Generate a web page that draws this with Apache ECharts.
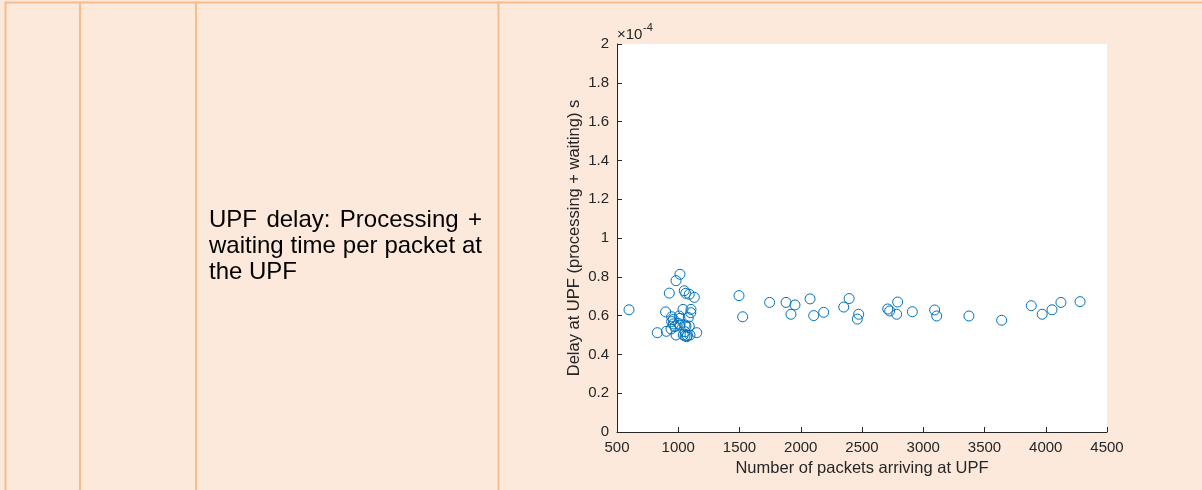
<!DOCTYPE html>
<html>
<head>
<meta charset="utf-8">
<script src="https://cdn.jsdelivr.net/npm/echarts@6/dist/echarts.min.js"></script>
<style>
html,body{margin:0;padding:0;background:#FCE9DB;}
#chart{width:1202px;height:490px;}
</style>
</head>
<body>
<div id="chart"></div>
<script>
// ---- data (y values in units of 1e-4 s) ----
const yExponent = -4;
const packetsArriving = [
  598, 829, 903, 897, 927, 982, 1014, 1049, 1061, 1090, 1131, 1039, 1104, 1102,
  946, 960, 1008, 1014, 1082, 946, 960, 1000, 1014, 1055, 1090, 941, 973, 1151,
  982, 1041, 1055, 1074, 1069, 1096, 1055, 1063,
  1496, 1526, 1746, 1880, 1953, 1920, 2076, 2106, 2187, 2351, 2395,
  2473, 2462, 2710, 2726, 2791, 2783, 2911, 3093, 3110, 3373, 3640,
  3882, 3971, 4051, 4124, 4280
];
const upfDelay = [
  0.630, 0.512, 0.519, 0.619, 0.716, 0.780, 0.813, 0.728, 0.715, 0.710, 0.694, 0.632, 0.632, 0.615,
  0.594, 0.580, 0.598, 0.586, 0.590, 0.569, 0.557, 0.560, 0.552, 0.552, 0.546, 0.531, 0.543, 0.512,
  0.500, 0.500, 0.495, 0.497, 0.491, 0.500, 0.517, 0.546,
  0.703, 0.594, 0.668, 0.668, 0.655, 0.607, 0.686, 0.600, 0.617, 0.644, 0.688,
  0.607, 0.582, 0.634, 0.624, 0.670, 0.607, 0.620, 0.629, 0.598, 0.598, 0.576,
  0.651, 0.607, 0.630, 0.668, 0.672
];
const xTicks = [500, 1000, 1500, 2000, 2500, 3000, 3500, 4000, 4500];
const yTicks = [0, 0.2, 0.4, 0.6, 0.8, 1, 1.2, 1.4, 1.6, 1.8, 2];
const xTitle = 'Number of packets arriving at UPF';
const yTitle = 'Delay at UPF (processing + waiting) s';
const cellLines = [
  ['UPF', 'delay:', 'Processing', '+'],
  ['waiting', 'time', 'per', 'packet', 'at'],
  ['the', 'UPF']
];

const FONT = '"Liberation Sans", Arial, sans-serif';
const TXT = '#262626';
const BORDER = '#F5BC8C';

const chart = echarts.init(document.getElementById('chart'), null, {renderer: 'canvas'});

// measure text for justified cell paragraph
const ctx = document.createElement('canvas').getContext('2d');
const cellFontSize = 24;
ctx.font = cellFontSize + 'px ' + FONT;
const cellLeft = 209, cellWidth = 273, firstBaseline = 230, lineGap = 26;
const graphics = [];
cellLines.forEach((words, li) => {
  const justify = li < cellLines.length - 1;
  const widths = words.map(w => ctx.measureText(w).width);
  const spaceW = ctx.measureText(' ').width;
  const total = widths.reduce((a, b) => a + b, 0);
  const gap = justify && words.length > 1 ? (cellWidth - total) / (words.length - 1) : spaceW;
  let x = cellLeft;
  words.forEach((w, i) => {
    graphics.push({
      type: 'text', left: x, top: firstBaseline + li * lineGap - cellFontSize * 0.9,
      style: {text: w, font: cellFontSize + 'px ' + FONT, fill: '#000'}
    });
    x += widths[i] + gap;
  });
});
// table borders
const vLines = [5.5, 80, 196, 498.5];
vLines.forEach(x => graphics.push({
  type: 'line', shape: {x1: x, y1: 2, x2: x, y2: 490},
  style: {stroke: BORDER, lineWidth: 2}, z: 10
}));
graphics.push({type: 'line', shape: {x1: 4.5, y1: 2.5, x2: 1202, y2: 2.5},
  style: {stroke: BORDER, lineWidth: 2}, z: 10});
// exponent label
graphics.push({type: 'text', left: 617, top: 27,
  style: {text: '\u00d710', font: '15px ' + FONT, fill: TXT}});
graphics.push({type: 'text', left: 643, top: 22,
  style: {text: String(yExponent), font: '11px ' + FONT, fill: TXT}});

const option = {
  backgroundColor: '#FCE9DB',
  animation: false,
  grid: {left: 617, top: 44, right: 95, bottom: 58, show: true,
         backgroundColor: '#ffffff', borderWidth: 0},
  xAxis: {
    type: 'value', min: 500, max: 4500, interval: 500,
    name: xTitle, nameLocation: 'middle', nameGap: 27,
    nameTextStyle: {fontFamily: FONT, fontSize: 16.5, color: TXT},
    axisLine: {show: true, lineStyle: {color: TXT, width: 1}},
    axisTick: {show: true, inside: true, length: 5, lineStyle: {color: TXT}},
    axisLabel: {fontFamily: FONT, fontSize: 15, color: TXT, margin: 8,
                formatter: v => String(v), showMinLabel: true, showMaxLabel: true},
    splitLine: {show: false}
  },
  yAxis: {
    type: 'value', min: 0, max: 2, interval: 0.2,
    name: yTitle, nameLocation: 'middle', nameGap: 34, nameRotate: 90,
    nameTextStyle: {fontFamily: FONT, fontSize: 16.5, color: TXT},
    axisLine: {show: true, lineStyle: {color: TXT, width: 1}},
    axisTick: {show: true, inside: true, length: 5, lineStyle: {color: TXT}},
    axisLabel: {fontFamily: FONT, fontSize: 15, color: TXT, margin: 8,
                formatter: v => String(Number(v.toFixed(1))), showMinLabel: true, showMaxLabel: true},
    splitLine: {show: false}
  },
  series: [{
    type: 'scatter',
    data: packetsArriving.map((x, i) => [x, upfDelay[i]]),
    symbol: 'circle', symbolSize: 10,
    itemStyle: {color: 'rgba(0,0,0,0)', borderColor: '#0072BD', borderWidth: 1, opacity: 1}
  }],
  graphic: graphics
};
chart.setOption(option);
</script>
</body>
</html>
